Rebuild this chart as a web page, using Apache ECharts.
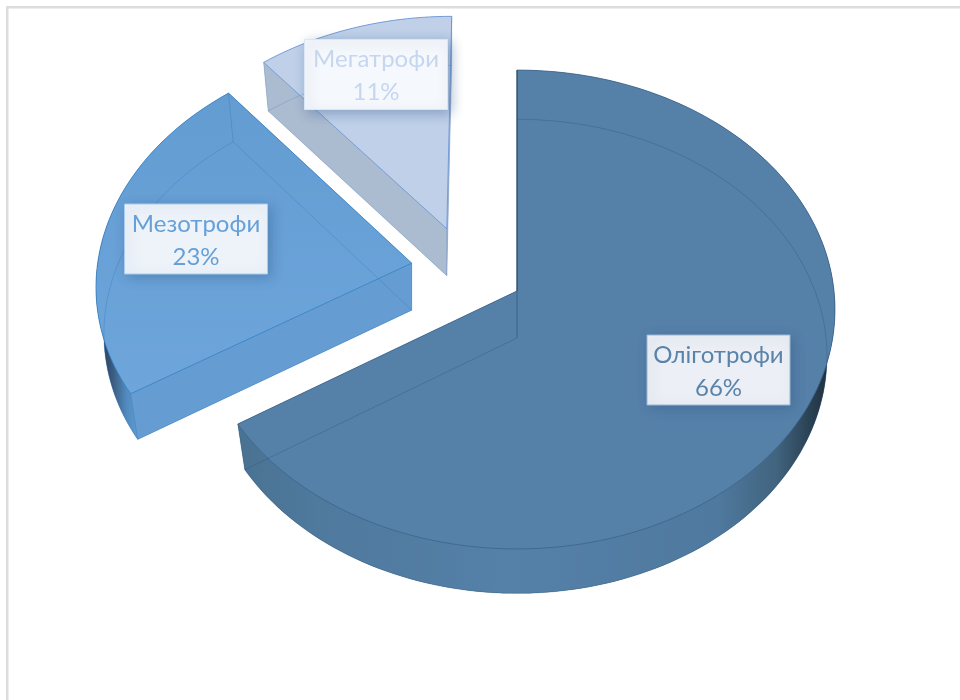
<!DOCTYPE html>
<html>
<head>
<meta charset="utf-8">
<style>html,body{margin:0;padding:0;background:#fff}#chart{width:960px;height:700px}</style>
<script src="https://cdn.jsdelivr.net/npm/echarts@6/dist/echarts.min.js"></script>
</head>
<body>
<div id="chart"></div>
<script>
// Trophic groups and their shares, in percent
const categories = ['Оліготрофи', 'Мезотрофи', 'Мегатрофи'];
const shares = [66, 23, 11];

// Look of each slice
const faceTopColors = ['#5580a8', '#629cd1', '#bfd0e8'];
const faceBottomColors = ['#5580a8', '#6ea6dc', '#bfd0e8'];
const wallColors = ['#517ba1', '#659dd2', '#abbbd0'];
const edgeColors = ['rgba(60,100,140,0.8)', 'rgba(50,125,195,0.75)', 'rgba(115,155,215,0.95)'];
const hiddenEdges = ['rgba(40,75,110,0.3)', 'rgba(50,115,180,0.32)', 'rgba(90,130,190,0.3)'];
const textColors = ['#5a83aa', '#66a0d8', '#c6d6ef'];
const boxFills = ['#eceff5', '#eef3fa', '#f5f8fc'];
const boxStrokes = ['#9db7d0', '#a8cbee', '#dbe6f5'];

// How far each slice is pulled out of the disc, in disc radii
const pullU = [0, -0.335, -0.226];
const pullV = [0, -0.118, -0.267];

// Disc projection: centre, radii, perspective strength and extrusion height
const CX = 517, CY = 291, RX = 317, RY = 238, PERSPECTIVE = 0.0773;
const DEPTH = 47, LOWER_X = 0.975, LOWER_Y = 0.99;

// Label boxes: centre of the box per slice
const labelX = [718.5, 196, 376];
const labelY = [370, 239, 74.5];
const BOX_W = 143, BOX_H = 70;

// Upper rim point of the disc, before any extrusion
function project(u, v) {
  const d = 1 - PERSPECTIVE * v;
  return [CX + RX * u / d, CY + RY * v / d];
}

// Base of a slice: narrower around its own apex and pushed down by the depth
function lowerPoint(p, apex) {
  return [apex[0] + (p[0] - apex[0]) * LOWER_X, apex[1] + DEPTH + (p[1] - apex[1]) * LOWER_Y];
}

function arcPoints(a0, a1, ou, ov) {
  const pts = [];
  const n = Math.max(2, Math.ceil((a1 - a0) / 1.5));
  for (let i = 0; i <= n; i++) {
    const a = (a0 + (a1 - a0) * i / n) * Math.PI / 180;
    pts.push(project(ou + Math.sin(a), ov - Math.cos(a)));
  }
  return pts;
}

const polygon = (points, style) => ({ type: 'polygon', shape: { points }, style });
const polyline = (points, stroke, lineWidth) => ({
  type: 'polyline', shape: { points }, style: { fill: null, stroke, lineWidth: lineWidth || 1 }
});

// Shading of the curved wall, darkening where it turns away from the viewer
const wallGradients = [
  [[0, '#4a7393'], [0.12, '#4f799d'], [0.45, '#5580a8'], [0.8, '#4f799e'], [0.9, '#41647f'], [0.96, '#293f52'], [1, '#1c2c3a']],
  [[0, '#2b3b4e'], [0.3, '#3a5a7e'], [0.65, '#528bc0'], [1, '#649dd2']],
  [[0, '#abbbd0'], [1, '#abbbd0']]
];
const wallSpan = [[247, 835], [100, 141], [260, 450]];

function renderSlice(params, api) {
  const i = params.dataIndex;
  const total = shares.reduce((a, b) => a + b, 0);
  const before = shares.slice(0, i).reduce((a, b) => a + b, 0);
  const a0 = before / total * 360;
  const a1 = (before + api.value(0)) / total * 360;
  const ou = pullU[i], ov = pullV[i];

  const topArc = arcPoints(a0, a1, ou, ov);
  const topApex = project(ou, ov);
  const lowArc = topArc.map(p => lowerPoint(p, topApex));
  const lowApex = lowerPoint(topApex, topApex);
  const last = topArc.length - 1;
  const wallFill = new echarts.graphic.LinearGradient(
    wallSpan[i][0], 0, wallSpan[i][1], 0,
    wallGradients[i].map(s => ({ offset: s[0], color: s[1] })), true
  );
  const faceFill = new echarts.graphic.LinearGradient(
    0, 90, 0, 400,
    [{ offset: 0, color: faceTopColors[i] }, { offset: 1, color: faceBottomColors[i] }], true
  );

  const children = [
    polygon([lowApex].concat(lowArc), { fill: wallColors[i] }),
    polygon([topApex, topArc[0], lowArc[0], lowApex], { fill: wallColors[i] }),
    polygon([topApex, topArc[last], lowArc[last], lowApex], { fill: wallColors[i] }),
    polygon(topArc.concat(lowArc.slice().reverse()), { fill: wallFill }),
    polygon([topApex].concat(topArc), { fill: faceFill, stroke: edgeColors[i], lineWidth: 1 }),
    // Edges of the base showing through the translucent body
    polyline(lowArc, hiddenEdges[i]),
    polyline([lowArc[0], lowApex, lowArc[last]], hiddenEdges[i]),
    polyline([topApex, lowApex], hiddenEdges[i]),
    polyline([topArc[0], lowArc[0]], hiddenEdges[i]),
    polyline([topArc[last], lowArc[last]], hiddenEdges[i])
  ];
  if (i === 0) {
    children.push(polyline([topArc[0], topApex], 'rgba(35,60,80,0.75)'));
  }

  const bx = labelX[i] - BOX_W / 2, by = labelY[i] - BOX_H / 2;
  children.push({
    type: 'rect',
    shape: { x: bx, y: by, width: BOX_W, height: BOX_H },
    style: {
      fill: boxFills[i], stroke: boxStrokes[i], lineWidth: 1,
      shadowBlur: 12, shadowOffsetX: 3, shadowOffsetY: 3, shadowColor: 'rgba(50,90,140,0.4)'
    }
  });
  [categories[i], api.value(0) + '%'].forEach((line, k) => {
    children.push({
      type: 'text',
      style: {
        text: line, x: labelX[i], y: labelY[i] + (k === 0 ? -15 : 18),
        fill: textColors[i], font: '24px Lato, "Open Sans", "Noto Sans", sans-serif',
        align: 'center', verticalAlign: 'middle'
      }
    });
  });
  return { type: 'group', children };
}

const chart = echarts.init(document.getElementById('chart'), null, { renderer: 'canvas' });
chart.setOption({
  animation: false,
  backgroundColor: '#ffffff',
  graphic: [
    { type: 'rect', silent: true, shape: { x: 6, y: 6, width: 954, height: 2.5 }, style: { fill: '#dddddd' } },
    { type: 'rect', silent: true, shape: { x: 6, y: 6, width: 2.5, height: 694 }, style: { fill: '#dddddd' } }
  ],
  series: [{
    type: 'custom',
    coordinateSystem: 'none',
    silent: true,
    renderItem: renderSlice,
    data: shares.map(v => [v])
  }]
});
</script>
</body>
</html>
